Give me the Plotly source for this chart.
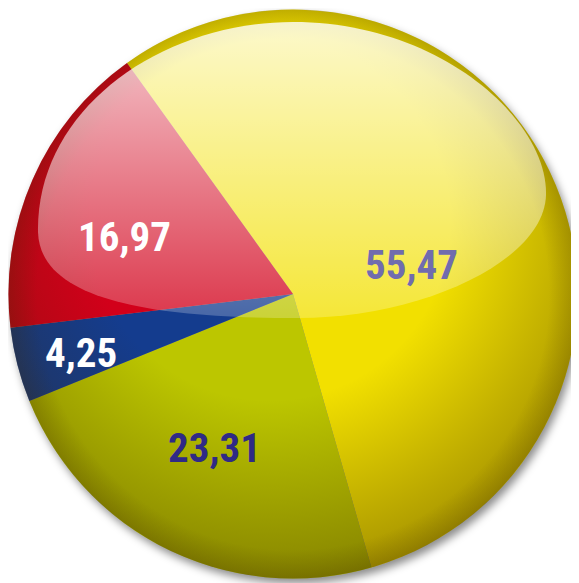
import math
import base64
import plotly.graph_objects as go

# ---- data ----
categories = ["A", "B", "C", "D"]
values = [55.47, 23.31, 4.25, 16.97]
colors = ["#f2e000", "#bcc600", "#143c8e", "#d2001a"]
text_colors = ["#716cae", "#2f2a86", "#ffffff", "#ffffff"]
label_radius = [0.43, 0.60, 0.77, 0.63]      # label distance from centre (fraction of radius)
label_turn = [10.7, 1.6, -0.5, -4.2]         # small angular nudge of each label (deg)

ROT = -35.7                   # start angle of first slice (deg, clockwise from 12 o'clock)
OFF = 8                       # default page margin of the html body
W, H = 579 - OFF, 583 - OFF   # visible figure size
CX, CY, R = 293, 294, 284.5   # pie geometry in screenshot pixels
FONT = "Roboto Condensed, Open Sans Condensed, DejaVu Sans Condensed, sans-serif"


def px2paper(x, y):
    return (x - OFF) / W, 1 - (y - OFF) / H


fig = go.Figure(go.Pie(
    labels=categories,
    values=values,
    sort=False,
    direction="clockwise",
    rotation=ROT,
    marker=dict(colors=colors, line=dict(width=0)),
    textinfo="none",
    showlegend=False,
    hoverinfo="skip",
    domain=dict(x=[(CX - R - OFF) / W, (CX + R - OFF) / W],
                y=[1 - (CY + R - OFF) / H, 1 - (CY - R - OFF) / H]),
))

# ---- labels: placed at each slice's mid angle ----
total = sum(values)
cum = 0.0
annotations = []
for v, rf, turn, tc in zip(values, label_radius, label_turn, text_colors):
    mid = math.radians(ROT + (cum + v / 2) / total * 360 + turn)
    cum += v
    x, y = px2paper(CX + rf * R * math.sin(mid), CY - rf * R * math.cos(mid) + 3)
    annotations.append(dict(
        x=x, y=y, xref="paper", yref="paper", showarrow=False,
        text=f"{v:.2f}".replace(".", ","),
        font=dict(family=FONT, size=41, weight="bold", color=tc),
        xanchor="center", yanchor="middle"))

# ---- decorative glossy overlay (shading + highlight) ----
gloss_d = ("M38,232 C36,110 160,22 293,22 C440,22 548,120 546,195 "
           "C544,262 420,318 298,318 C150,318 40,300 38,232 Z")
overlay = f"""<svg xmlns="http://www.w3.org/2000/svg" width="579" height="583" viewBox="0 0 579 583">
<defs>
<clipPath id="c"><circle cx="{CX}" cy="{CY}" r="{R}"/></clipPath>
<radialGradient id="sh" cx="270" cy="220" r="400" gradientUnits="userSpaceOnUse">
<stop offset="0.45" stop-color="#3c2800" stop-opacity="0"/>
<stop offset="1" stop-color="#3c2800" stop-opacity="0.5"/>
</radialGradient>
<radialGradient id="rim" cx="{CX}" cy="{CY}" r="{R}" gradientUnits="userSpaceOnUse">
<stop offset="0.9" stop-color="#3c2800" stop-opacity="0"/>
<stop offset="1" stop-color="#3c2800" stop-opacity="0.22"/>
</radialGradient>
<linearGradient id="gl" x1="0" y1="22" x2="0" y2="318" gradientUnits="userSpaceOnUse">
<stop offset="0" stop-color="#ffffff" stop-opacity="0.8"/>
<stop offset="1" stop-color="#ffffff" stop-opacity="0.22"/>
</linearGradient>
</defs>
<g clip-path="url(#c)">
<rect width="579" height="583" fill="url(#sh)"/>
<rect width="579" height="583" fill="url(#rim)"/>
<path d="{gloss_d}" fill="url(#gl)"/>
</g>
</svg>"""

shadow = f"""<svg xmlns="http://www.w3.org/2000/svg" width="579" height="583" viewBox="0 0 579 583">
<defs><filter id="b" x="-10%" y="-10%" width="120%" height="120%"><feGaussianBlur stdDeviation="4"/></filter></defs>
<circle cx="{CX + 3}" cy="{CY + 5}" r="{R}" fill="#000000" fill-opacity="0.45" filter="url(#b)"/>
</svg>"""


def uri(svg):
    return "data:image/svg+xml;base64," + base64.b64encode(svg.encode()).decode()


x0, y0 = px2paper(0, 0)
images = [
    dict(source=uri(shadow), xref="paper", yref="paper", x=x0, y=y0,
         sizex=579 / W, sizey=583 / H, xanchor="left", yanchor="top",
         sizing="stretch", layer="below"),
    dict(source=uri(overlay), xref="paper", yref="paper", x=x0, y=y0,
         sizex=579 / W, sizey=583 / H, xanchor="left", yanchor="top",
         sizing="stretch", layer="above"),
]

fig.update_layout(
    width=W, height=H,
    margin=dict(l=0, r=0, t=0, b=0),
    paper_bgcolor="white",
    annotations=annotations,
    images=images,
)

fig.write_html("out.html")
